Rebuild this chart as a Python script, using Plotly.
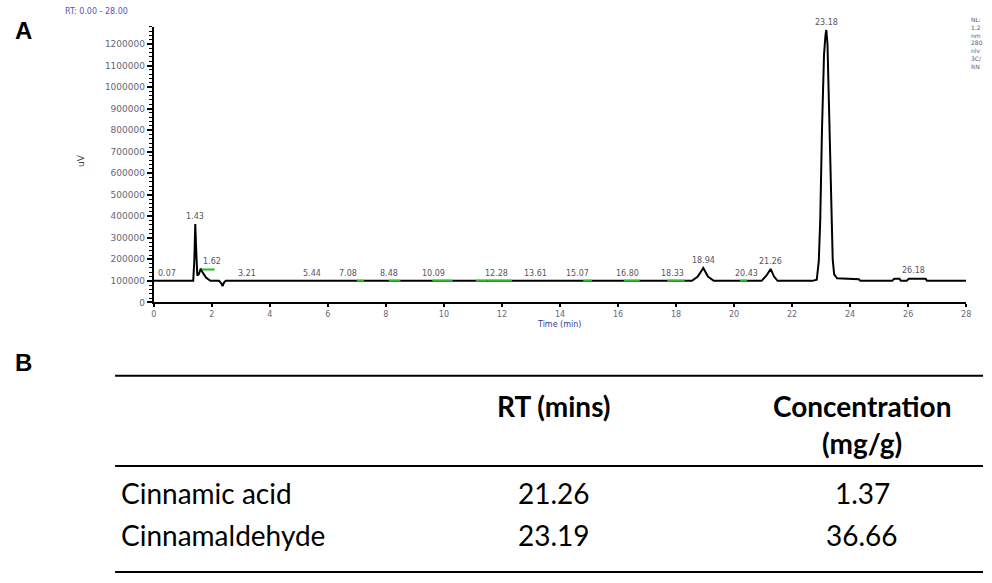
import plotly.graph_objects as go

# ---------------- data ----------------
time_min = [0, 1.36, 1.40, 1.43, 1.46, 1.50, 1.55, 1.62, 1.68, 1.80,
            1.95, 2.05, 2.25, 2.33, 2.37, 2.42, 2.48,
            18.55, 18.75, 18.94, 19.10, 19.30,
            20.95, 21.12, 21.26, 21.38, 21.50,
            22.70, 22.85, 22.92, 22.97, 23.03, 23.10, 23.15, 23.18, 23.22, 23.28,
            23.35, 23.40, 23.45, 23.55,
            24.30, 24.35,
            25.45, 25.52, 25.70, 25.75,
            25.95, 26.02, 26.60, 26.65, 28.0]
signal_uv = [100000, 100000, 200000, 364000, 250000, 125000, 130000, 157000, 140000, 115000,
             100000, 100000, 100000, 88000, 75000, 92000, 100000,
             100000, 120000, 160000, 120000, 100000,
             100000, 125000, 155000, 120000, 100000,
             100000, 105000, 190000, 380000, 800000, 1150000, 1240000, 1265000, 1200000, 900000,
             450000, 200000, 130000, 112000,
             108000, 100000,
             100000, 110000, 110000, 100000,
             100000, 110000, 110000, 100000, 100000]

peak_labels = ["0.07", "1.43", "1.62", "3.21", "5.44", "7.08", "8.48", "10.09", "12.28",
               "13.61", "15.07", "16.80", "18.33", "18.94", "20.43", "21.26", "23.18", "26.18"]
peak_rt = [0.07, 1.43, 1.62, 3.21, 5.44, 7.08, 8.48, 10.09, 12.28,
           13.61, 15.07, 16.80, 18.33, 18.94, 20.43, 21.26, 23.18, 26.18]
peak_height = [100000, 364000, 157000, 100000, 100000, 100000, 100000, 100000, 100000,
               100000, 100000, 100000, 100000, 160000, 100000, 155000, 1265000, 112000]

green_start = [1.65, 7.00, 8.10, 9.60, 11.10, 11.50, 14.80, 16.20, 17.70, 20.20]
green_end = [2.10, 7.25, 8.50, 10.30, 11.50, 12.35, 15.10, 16.75, 18.30, 20.45]
green_level = [153000, 100000, 100000, 100000, 100000, 100000, 100000, 100000, 100000, 100000]

x_ticks = list(range(0, 29, 2))
y_ticks = list(range(0, 1200001, 100000))

header_rt = "RT (mins)"
header_conc = ["Concentration", "(mg/g)"]
compounds = ["Cinnamic acid", "Cinnamaldehyde"]
rt_values = ["21.26", "23.19"]
concentrations = ["1.37", "36.66"]

# ---------------- figure ----------------
W, H = 992, 583
def py(pix):
    return 1 - pix / H
def px(pix):
    return pix / W

fig = go.Figure()

fig.add_trace(go.Scatter(x=time_min, y=signal_uv, mode="lines",
                         line=dict(color="black", width=2), hoverinfo="skip",
                         showlegend=False))

gx, gy = [], []
for s, e, lv in zip(green_start, green_end, green_level):
    gx += [s, e, None]
    gy += [lv, lv, None]
fig.add_trace(go.Scatter(x=gx, y=gy, mode="lines",
                         line=dict(color="#22bb22", width=2), hoverinfo="skip",
                         showlegend=False))

anchors = {"0.07": "left", "1.62": "left", "1.43": "center", "3.21": "center",
           "5.44": "center", "18.94": "center", "20.43": "center", "21.26": "center",
           "23.18": "center", "26.18": "center"}
for lab, rt, hgt in zip(peak_labels, peak_rt, peak_height):
    fig.add_annotation(x=rt, y=hgt, text=lab, showarrow=False,
                       xanchor=anchors.get(lab, "right"), yanchor="bottom", yshift=1,
                       font=dict(family="DejaVu Sans", size=8, color="#555566"))

fig.update_layout(
    width=W, height=H,
    margin=dict(l=0, r=0, t=0, b=0),
    paper_bgcolor="white", plot_bgcolor="white",
    xaxis=dict(domain=[px(152), px(971)], range=[0, 28], tickvals=x_ticks,
               showline=True, linecolor="black", linewidth=2, ticks="outside",
               ticklen=3, tickwidth=2, tickcolor="black", showgrid=False, zeroline=False,
               tickfont=dict(family="DejaVu Sans", size=8, color="#666677")),
    yaxis=dict(domain=[py(305), py(27)], range=[0, 1280000], tickvals=y_ticks,
               tickformat="d",
               showline=True, linecolor="black", linewidth=2, ticks="outside",
               ticklen=5, tickwidth=2, tickcolor="black", showgrid=False, zeroline=False,
               minor=dict(dtick=20000, ticks="outside", ticklen=3, tickwidth=1,
                          tickcolor="black"),
               tickfont=dict(family="DejaVu Sans", size=9, color="#666677")),
)

def note(x, y, text, size, color, family="DejaVu Sans", xanchor="center",
         yanchor="middle", **kw):
    fig.add_annotation(xref="paper", yref="paper", x=px(x), y=py(y), text=text,
                       showarrow=False, xanchor=xanchor, yanchor=yanchor,
                       font=dict(family=family, size=size, color=color), **kw)

# axis titles & header texts
note(561, 327, "Time (min)", 8, "#3a3a99")
note(78, 162, "uV", 9, "#553344", textangle=-90)
note(60, 12, "RT: 0.00 - 28.00", 8, "#5555bb", xanchor="left")
note(974, 14, "NL:<br>1.2<br>nm<br>280<br>nlv<br>3C/<br>RN", 6, "#665566",
     xanchor="left", yanchor="top", align="left")

note(10, 31, "<b>A</b>", 24, "black", family="Liberation Sans", xanchor="left")
note(10, 366, "<b>B</b>", 24, "black", family="Liberation Sans", xanchor="left")

# ---------------- table ----------------
tfont = "Lato"
TS = 28
for ypix in (379, 470, 577):
    fig.add_shape(type="line", xref="paper", yref="paper",
                  x0=px(113), x1=px(988), y0=py(ypix), y1=py(ypix),
                  line=dict(color="black", width=2))

col_x = [117, 555, 866]
note(col_x[1], 410, "<b>" + header_rt + "</b>", TS, "black", family=tfont)
note(col_x[2], 410, "<b>" + header_conc[0] + "</b>", TS, "black", family=tfont)
note(col_x[2], 447, "<b>" + header_conc[1] + "</b>", TS, "black", family=tfont)

row_y = [497, 540]
for name, rt, conc, yy in zip(compounds, rt_values, concentrations, row_y):
    note(col_x[0], yy, name, TS, "black", family=tfont, xanchor="left")
    note(col_x[1], yy, rt, TS, "black", family=tfont)
    note(col_x[2], yy, conc, TS, "black", family=tfont)

fig.write_html("out.html", config={"displayModeBar": False},
               post_script="document.body.style.margin='0';")
